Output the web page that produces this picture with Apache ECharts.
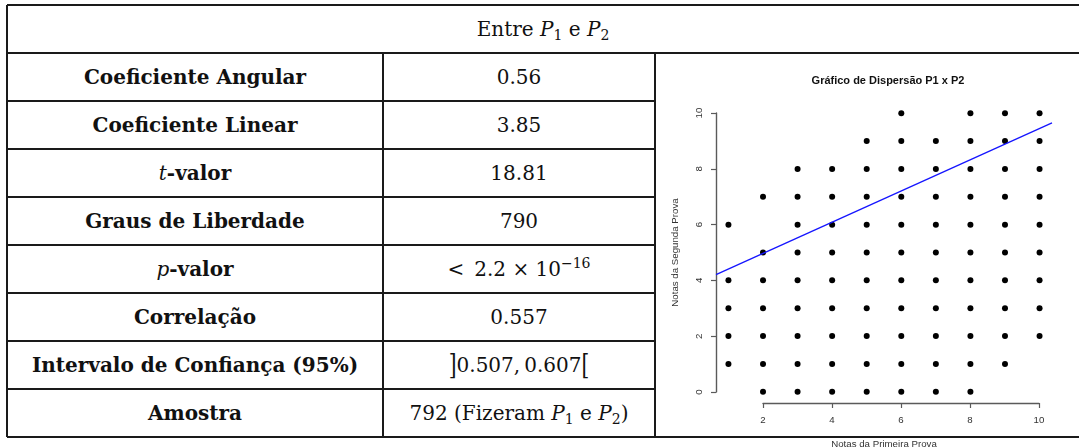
<!DOCTYPE html>
<html><head><meta charset="utf-8">
<script src="https://cdn.jsdelivr.net/npm/echarts@6/dist/echarts.min.js"></script>
<style>
html,body{margin:0;padding:0;background:#fff;width:1079px;height:447px;overflow:hidden;}
#tbl{position:absolute;left:0;top:0;width:1079px;height:447px;}
#chart{position:absolute;left:0;top:0;width:1079px;height:447px;}
.ln{position:absolute;background:#1a1a1a;}
.cell{position:absolute;display:flex;align-items:center;justify-content:center;font-family:'DejaVu Serif',serif;font-size:20px;color:#111;white-space:nowrap;}
.b{font-weight:bold}
.m{font-weight:normal;font-style:italic}
sub{font-size:70%;line-height:0;position:relative;top:0.25em;vertical-align:baseline}
sup{font-size:70%;line-height:0;position:relative;top:-0.55em;vertical-align:baseline}
.br{display:inline-block;transform:scaleY(1.35);font-weight:300}
</style></head>
<body>
<div id="tbl"></div>
<div id="chart"></div>
<script>
// ---- table content ----
const headerText = 'Entre <i>P</i><sub>1</sub> e <i>P</i><sub>2</sub>';
const statLabels = [
  'Coeficiente Angular',
  'Coeficiente Linear',
  '<i class="m">t</i>-valor',
  'Graus de Liberdade',
  '<i class="m">p</i>-valor',
  'Correlação',
  'Intervalo de Confiança (95%)',
  'Amostra'
];
const statValues = [
  '0.56',
  '3.85',
  '18.81',
  '790',
  '&lt;&ensp;2.2&nbsp;×&nbsp;10<sup>−16</sup>',
  '0.557',
  '<span class="br">]</span>0.507,&thinsp;0.607<span class="br">[</span>',
  '792 (Fizeram <i>P</i><sub>1</sub> e <i>P</i><sub>2</sub>)'
];

// ---- scatter data (nota P1, nota P2) ----
const notaP1 = [
  6, 8, 9, 10,
  5, 6, 7, 8, 9, 10,
  3, 4, 5, 6, 7, 8, 9, 10,
  2, 3, 4, 5, 6, 7, 8, 9, 10,
  1, 3, 4, 5, 6, 7, 8, 9, 10,
  2, 3, 4, 5, 6, 7, 8, 9, 10,
  1, 2, 3, 4, 5, 6, 7, 8, 9, 10,
  1, 2, 3, 4, 5, 6, 7, 8, 9, 10,
  1, 2, 3, 4, 5, 6, 7, 8, 9, 10,
  1, 2, 3, 4, 5, 6, 7, 8, 9,
  2, 3, 4, 5, 6, 7, 8
];
const notaP2 = [
  10, 10, 10, 10,
  9, 9, 9, 9, 9, 9,
  8, 8, 8, 8, 8, 8, 8, 8,
  7, 7, 7, 7, 7, 7, 7, 7, 7,
  6, 6, 6, 6, 6, 6, 6, 6, 6,
  5, 5, 5, 5, 5, 5, 5, 5, 5,
  4, 4, 4, 4, 4, 4, 4, 4, 4, 4,
  3, 3, 3, 3, 3, 3, 3, 3, 3, 3,
  2, 2, 2, 2, 2, 2, 2, 2, 2, 2,
  1, 1, 1, 1, 1, 1, 1, 1, 1,
  0, 0, 0, 0, 0, 0, 0
];
const coefAngular = 0.56;
const coefLinear = 3.85;
const xTickValues = [2, 4, 6, 8, 10];
const yTickValues = [0, 2, 4, 6, 8, 10];

// ---- build table ----
(function(){
  const t = document.getElementById('tbl');
  const L = 7, C1 = 383, C2 = 655, R = 1079, TOP = 5, HB = 53, RH = 48;
  const bottom = HB + RH * statLabels.length;
  function hl(x1, x2, y, w){ const d=document.createElement('div'); d.className='ln';
    d.style.left=x1+'px'; d.style.width=(x2-x1)+'px'; d.style.top=(y-w/2)+'px'; d.style.height=w+'px'; t.appendChild(d);}
  function vl(x, y1, y2, w){ const d=document.createElement('div'); d.className='ln';
    d.style.left=(x-w/2)+'px'; d.style.width=w+'px'; d.style.top=y1+'px'; d.style.height=(y2-y1)+'px'; t.appendChild(d);}
  function cell(x1, x2, y1, y2, html, cls){ const d=document.createElement('div'); d.className='cell '+(cls||'');
    d.style.left=x1+'px'; d.style.width=(x2-x1)+'px'; d.style.top=y1+'px'; d.style.height=(y2-y1)+'px';
    d.innerHTML='<span>'+html+'</span>'; t.appendChild(d);}
  hl(L, R, TOP, 1.2);
  hl(L, R, HB, 1.2);
  for (let i = 1; i < statLabels.length; i++) hl(L, C2, HB + RH*i, 1.2);
  hl(L, R, bottom, 1.4);
  vl(L, TOP, bottom, 1.2);
  vl(C1, HB, bottom, 1.2);
  vl(C2, HB, bottom, 1.2);
  cell(L, R, TOP, HB, headerText, '');
  statLabels.forEach((s, i) => {
    cell(L, C1, HB + RH*i, HB + RH*(i+1), s, 'b');
    cell(C1, C2, HB + RH*i, HB + RH*(i+1), statValues[i], '');
  });
})();

// ---- scatter chart ----
const chart = echarts.init(document.getElementById('chart'));
const pts = notaP1.map((x, i) => [x, notaP2[i]]);
const xLo = 0.64, xHi = 10.36, yLo = -0.4, yHi = 10.4;
const fit = [[xLo, coefLinear + coefAngular * xLo], [xHi, coefLinear + coefAngular * xHi]];
const axisCol = '#5a5a5a';
const sans = "'Liberation Sans', Arial, sans-serif";
chart.setOption({
  backgroundColor: 'transparent',
  animation: false,
  title: {
    text: 'Gráfico de Dispersão P1 x P2',
    left: 883, top: 70, textAlign: 'center',
    textStyle: { fontFamily: sans, fontSize: 11, fontWeight: 'bold', color: '#111' }
  },
  grid: [
    { left: 716, top: 102, width: 336, height: 301, containLabel: false, outerBoundsMode: 'none' },
    { left: 716, top: 113, width: 336, height: 279, containLabel: false, outerBoundsMode: 'none' },
    { left: 763, top: 102, width: 276, height: 301, containLabel: false, outerBoundsMode: 'none' }
  ],
  xAxis: [
    { gridIndex: 0, type: 'value', min: xLo, max: xHi,
      name: 'Notas da Primeira Prova', nameLocation: 'middle', nameGap: 36,
      nameTextStyle: { fontFamily: sans, fontSize: 9.7, color: '#333' },
      axisLine: { show: false, onZero: false }, axisTick: { show: false }, axisLabel: { show: false }, splitLine: { show: false } },
    { gridIndex: 1, type: 'value', min: xLo, max: xHi, show: false },
    { gridIndex: 2, type: 'value', min: xTickValues[0], max: xTickValues[xTickValues.length-1], interval: 2,
      position: 'bottom',
      axisLine: { show: true, onZero: false, lineStyle: { color: axisCol, width: 1.4 } },
      axisTick: { show: true, length: 5, lineStyle: { color: axisCol, width: 1.2 } },
      axisLabel: { fontFamily: sans, fontSize: 9.7, color: '#333', margin: 12 },
      splitLine: { show: false } }
  ],
  yAxis: [
    { gridIndex: 0, type: 'value', min: yLo, max: yHi,
      name: 'Notas da Segunda Prova', nameLocation: 'middle', nameGap: 36, nameRotate: 90,
      nameTextStyle: { fontFamily: sans, fontSize: 9.7, color: '#333' },
      axisLine: { show: false, onZero: false }, axisTick: { show: false }, axisLabel: { show: false }, splitLine: { show: false } },
    { gridIndex: 1, type: 'value', min: yTickValues[0], max: yTickValues[yTickValues.length-1], interval: 2,
      position: 'left',
      axisLine: { show: true, onZero: false, lineStyle: { color: axisCol, width: 1.4 } },
      axisTick: { show: true, length: 5, lineStyle: { color: axisCol, width: 1.2 } },
      axisLabel: { fontFamily: sans, fontSize: 9.7, color: '#333', margin: 12, rotate: 90 },
      splitLine: { show: false } },
    { gridIndex: 2, type: 'value', min: yLo, max: yHi, show: false }
  ],
  series: [
    { type: 'scatter', xAxisIndex: 0, yAxisIndex: 0, data: pts, symbol: 'circle', symbolSize: 6,
      itemStyle: { color: '#000', opacity: 1 }, silent: true },
    { type: 'line', xAxisIndex: 0, yAxisIndex: 0, data: fit, symbol: 'none',
      lineStyle: { color: '#1515ff', width: 1.3 }, silent: true }
  ]
});
</script>
</body></html>
